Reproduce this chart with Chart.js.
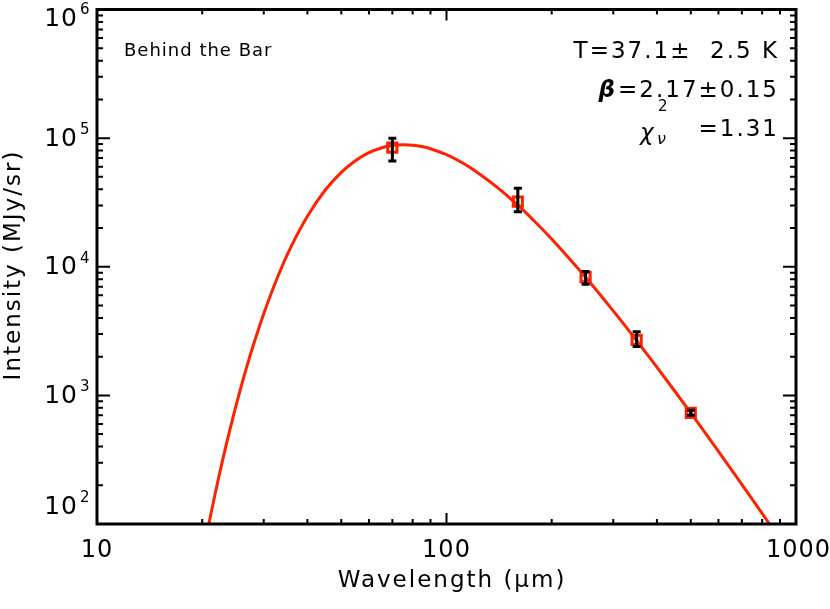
<!DOCTYPE html>
<html lang="en">
<head>
<meta charset="UTF-8">
<title>SED fit</title>
<script src="https://cdn.jsdelivr.net/npm/chart.js@4.4.0/dist/chart.umd.min.js"></script>
<style>
  html, body { margin: 0; padding: 0; background: #fff; }
  #wrap { width: 830px; height: 609px; }
</style>
</head>
<body>
<div id="wrap"><canvas id="sed"></canvas></div>
<script>
// model curve (wavelength in um, intensity in MJy/sr)
var lambdaFit = [20, 21, 22, 23, 24, 25, 26, 27, 28, 30, 33, 36, 40, 45, 50, 55, 60, 65, 70, 75, 80, 85, 90, 100, 110, 120, 140, 160, 180, 200, 250, 300, 350, 400, 500, 600, 700, 800, 900];
var intensityFit = [55, 107, 195, 334, 540, 836, 1239, 1771, 2451, 4318, 8543, 14510, 24720, 39480, 54220, 67100, 77030, 83780, 87600, 88900, 88150, 85940, 82640, 74280, 65160, 56320, 41270, 30090, 22090, 16410, 8288, 4542, 2668, 1657, 730, 367, 203, 121, 76];

// measured points with error bars
var lambdaObs = [70, 160, 250, 350, 500];
var intensityObs = [84500, 32100, 8300, 2700, 731];
var errLow = [66400, 26800, 7300, 2400, 700];
var errHigh = [100000, 40700, 9200, 3130, 765];

var xTicks = [10, 100, 1000];
var yTicks = [100, 1000, 10000, 100000, 1000000];

var FONT = "'DejaVu Sans', sans-serif";
var RED = "#ff2200";

var fitPts = lambdaFit.map((l, i) => ({x: l, y: intensityFit[i]}));
var obsPts = lambdaObs.map((l, i) => ({x: l, y: intensityObs[i]}));

// error bars, drawn with the chart's scales
var errorBars = {
  id: "errorBars",
  afterDatasetsDraw(chart) {
    var ctx = chart.ctx, xs = chart.scales.x, ys = chart.scales.y;
    ctx.save();
    ctx.strokeStyle = "#000";
    ctx.lineWidth = 3;
    lambdaObs.forEach((l, i) => {
      var px = xs.getPixelForValue(l);
      var top = ys.getPixelForValue(errHigh[i]);
      var bot = ys.getPixelForValue(errLow[i]);
      ctx.beginPath();
      ctx.moveTo(px, top); ctx.lineTo(px, bot);
      ctx.moveTo(px - 4, top); ctx.lineTo(px + 4, top);
      ctx.moveTo(px - 4, bot); ctx.lineTo(px + 4, bot);
      ctx.stroke();
    });
    ctx.restore();
  }
};

// IDL-style frame, inward ticks and labels
var frame = {
  id: "frame",
  afterDraw(chart) {
    var ctx = chart.ctx, a = chart.chartArea, xs = chart.scales.x, ys = chart.scales.y;
    ctx.save();
    ctx.strokeStyle = "#000";
    ctx.lineWidth = 3;
    ctx.strokeRect(a.left, a.top, a.right - a.left, a.bottom - a.top);

    ctx.lineWidth = 2;
    ctx.beginPath();
    // x ticks, top and bottom
    for (var d = 10; d < 1000; d *= 10) {
      for (var m = 1; m <= 9; m++) {
        var v = d * m;
        if (v <= 10) continue;
        var px = xs.getPixelForValue(v);
        var len = (m == 1) ? 11 : 5;
        ctx.moveTo(px, a.bottom); ctx.lineTo(px, a.bottom - len);
        ctx.moveTo(px, a.top); ctx.lineTo(px, a.top + len);
      }
    }
    // y ticks, left and right
    for (var d = 100; d < 1000000; d *= 10) {
      for (var m = 1; m <= 9; m++) {
        var v = d * m;
        if (v <= 100) continue;
        var py = ys.getPixelForValue(v);
        var len = (m == 1) ? 13 : 6;
        ctx.moveTo(a.left, py); ctx.lineTo(a.left + len, py);
        ctx.moveTo(a.right, py); ctx.lineTo(a.right - len, py);
      }
    }
    ctx.stroke();

    ctx.fillStyle = "#000";
    ctx.textBaseline = "middle";
    // x tick labels
    ctx.font = "24px " + FONT;
    ctx.letterSpacing = "1px";
    xTicks.forEach(v => {
      var px = xs.getPixelForValue(v);
      var s = String(v);
      if (v == 1000) { ctx.textAlign = "right"; ctx.fillText(s, 831, 551); }
      else { ctx.textAlign = "center"; ctx.fillText(s, px, 551); }
    });
    // y tick labels 10^n, kept inside the canvas at the ends
    yTicks.forEach(v => {
      var py = ys.getPixelForValue(v);
      py = Math.min(Math.max(py, 18), 506);
      var e = String(Math.round(Math.log10(v)));
      ctx.font = "15px " + FONT;
      ctx.textAlign = "left";
      ctx.fillText(e, 80, py - 8);
      ctx.font = "25px " + FONT;
      ctx.textAlign = "right";
      ctx.fillText("10", 78, py + 1);
    });

    // axis titles
    ctx.font = "23px " + FONT;
    ctx.letterSpacing = "2px";
    ctx.textAlign = "center";
    ctx.fillText("Wavelength (\u03bcm)", 452, 581);
    ctx.save();
    ctx.translate(14, 265);
    ctx.rotate(-Math.PI / 2);
    ctx.fillText("Intensity (MJy/sr)", 0, 0);
    ctx.restore();

    // annotations
    ctx.font = "18px " + FONT;
    ctx.letterSpacing = "1px";
    ctx.textAlign = "left";
    ctx.fillText("Behind the Bar", 124, 51);

    ctx.font = "23px " + FONT;
    ctx.letterSpacing = "2px";
    ctx.textAlign = "right";
    ctx.fillText("T=37.1\u00b1  2.5 K", 779, 52);
    ctx.fillText("=2.17\u00b10.15", 779, 91);
    var bw = ctx.measureText("=2.17\u00b10.15").width;
    ctx.font = "italic bold 23px " + FONT;
    ctx.fillText("\u03b2", 779 - bw - 1, 91);
    ctx.font = "23px " + FONT;
    ctx.fillText("=1.31", 779, 130);
    ctx.letterSpacing = "0px";
    ctx.font = "italic 23px " + FONT;
    ctx.textAlign = "left";
    ctx.fillText("\u03c7", 640, 134);
    ctx.font = "15px " + FONT;
    ctx.fillText("2", 658, 107);
    ctx.font = "italic 16px " + FONT;
    ctx.fillText("\u03bd", 657, 140);
    ctx.restore();
  }
};

new Chart("sed", {
  type: "scatter",
  data: {
    datasets: [
      {
        type: "line",
        data: fitPts,
        borderColor: RED,
        borderWidth: 3,
        pointRadius: 0,
        tension: 0.3,
        fill: false,
        order: 2
      },
      {
        data: obsPts,
        pointStyle: "rect",
        pointRadius: 6.5,
        borderColor: RED,
        borderWidth: 3,
        backgroundColor: "rgba(0,0,0,0)",
        order: 1
      }
    ]
  },
  options: {
    responsive: true,
    maintainAspectRatio: false,
    animation: false,
    layout: { padding: { left: 97, right: 34, top: 7, bottom: 85 } },
    plugins: { legend: { display: false }, tooltip: { enabled: false } },
    scales: {
      x: {
        type: "logarithmic", min: 10, max: 1000,
        grid: { display: false }, border: { display: false },
        ticks: { display: false },
        afterFit: s => { s.height = 0; }
      },
      y: {
        type: "logarithmic", min: 100, max: 1000000,
        grid: { display: false }, border: { display: false },
        ticks: { display: false },
        afterFit: s => { s.width = 0; }
      }
    }
  },
  plugins: [errorBars, frame]
});
</script>
</body>
</html>
